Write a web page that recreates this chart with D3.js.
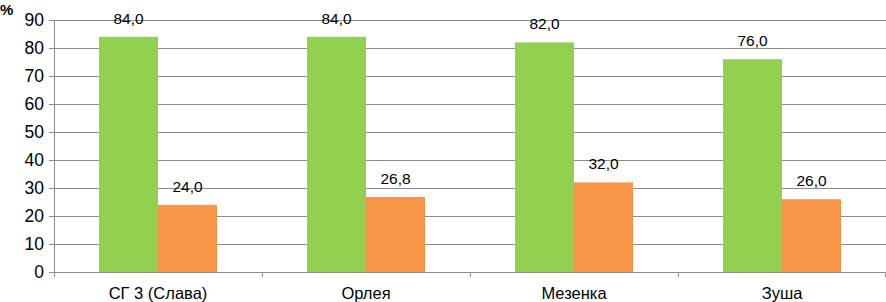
<!DOCTYPE html>
<html>
<head>
<meta charset="utf-8">
<script src="https://cdn.jsdelivr.net/npm/d3@7"></script>
<style>
  body { margin: 0; background: #fff; }
  svg { display: block; font-family: "Liberation Sans", Arial, sans-serif; }
</style>
</head>
<body>
<div class="chart"></div>
<script>
// Data
const categories = ["СГ 3 (Слава)", "Орлея", "Мезенка", "Зуша"];
const seriesGreen = [84.0, 84.0, 82.0, 76.0];
const seriesOrange = [24.0, 26.8, 32.0, 26.0];
const yTicks = [0, 10, 20, 30, 40, 50, 60, 70, 80, 90];

const width = 886, height = 302;
const margin = { top: 20, right: 0, bottom: 30, left: 54 };

const svg = d3.select(".chart").append("svg")
  .attr("width", width)
  .attr("height", height);

const x = d3.scaleBand()
  .domain(categories)
  .range([margin.left, width - margin.right]);

const y = d3.scaleLinear()
  .domain([0, 90])
  .range([height - margin.bottom, margin.top]);

// Gridlines
svg.append("g")
  .selectAll("line")
  .data(yTicks)
  .join("line")
  .attr("x1", margin.left - 5)
  .attr("x2", width - margin.right)
  .attr("y1", d => y(d) + 0.5)
  .attr("y2", d => y(d) + 0.5)
  .attr("stroke", "#8c8c8c")
  .attr("stroke-width", 1);

// Y axis labels
svg.append("g")
  .selectAll("text")
  .data(yTicks)
  .join("text")
  .attr("x", margin.left - 10)
  .attr("y", d => y(d))
  .attr("dy", "0.36em")
  .attr("text-anchor", "end")
  .style("font-size", "17.5px")
  .text(d => d);

// Y axis line
svg.append("line")
  .attr("x1", margin.left + 0.5).attr("x2", margin.left + 0.5)
  .attr("y1", y(90)).attr("y2", y(0))
  .attr("stroke", "#8c8c8c");

// "%" unit
svg.append("text")
  .attr("x", 0)
  .attr("y", 15)
  .style("font-size", "15px")
  .style("font-weight", "bold")
  .text("%");

// X category ticks
const bandEdges = categories.map(c => x(c)).concat([x.range()[1] - 1]);
svg.append("g")
  .selectAll("line")
  .data(bandEdges)
  .join("line")
  .attr("x1", d => Math.round(d) + 0.5)
  .attr("x2", d => Math.round(d) + 0.5)
  .attr("y1", y(0))
  .attr("y2", y(0) + 5)
  .attr("stroke", "#8c8c8c");

// Bars
const barW = 59;
const series = [
  { values: seriesGreen, color: "#92d050", offset: -barW },
  { values: seriesOrange, color: "#f79646", offset: 0 }
];

series.forEach(s => {
  const g = svg.append("g");
  g.selectAll("rect")
    .data(categories)
    .join("rect")
    .attr("x", (c) => x(c) + x.bandwidth() / 2 + s.offset)
    .attr("y", (c, i) => y(s.values[i]))
    .attr("width", barW)
    .attr("height", (c, i) => y(0) - y(s.values[i]))
    .attr("fill", s.color);

  g.selectAll("text")
    .data(categories)
    .join("text")
    .attr("x", (c) => x(c) + x.bandwidth() / 2 + s.offset + barW / 2)
    .attr("y", (c, i) => y(s.values[i]) - 13)
    .attr("text-anchor", "middle")
    .style("font-size", "15.5px")
    .text((c, i) => s.values[i].toFixed(1).replace(".", ","));
});

// Category labels
svg.append("g")
  .selectAll("text")
  .data(categories)
  .join("text")
  .attr("x", c => x(c) + x.bandwidth() / 2)
  .attr("y", height - 3)
  .attr("text-anchor", "middle")
  .style("font-size", "16.5px")
  .text(c => c);
</script>
</body>
</html>
